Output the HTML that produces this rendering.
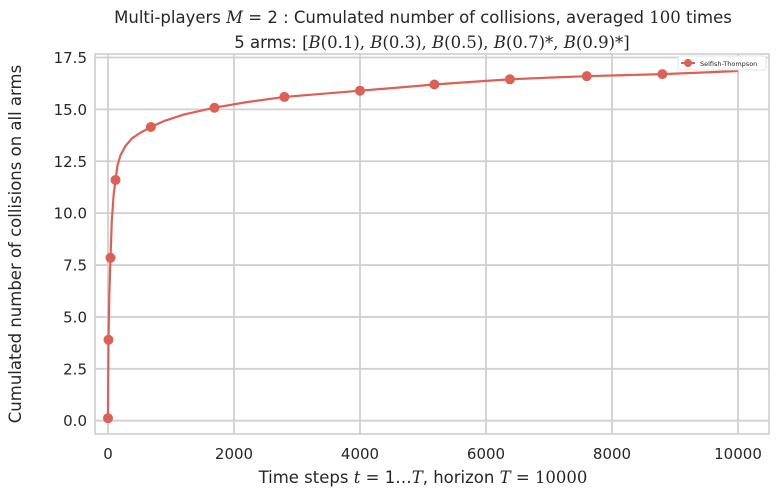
<!DOCTYPE html>
<html><head><meta charset="utf-8"><style>
body{margin:0;background:#fff;}
svg text{font-family:"DejaVu Sans","Liberation Sans",sans-serif;fill:#262626;}
</style></head><body>
<svg id="chart" width="784" height="495" xmlns="http://www.w3.org/2000/svg">
<text x="423" y="23" text-anchor="middle" font-size="16.5">Multi-players <tspan font-family="DejaVu Serif" font-style="italic">M</tspan> = 2 : Cumulated number of collisions, averaged <tspan font-family="DejaVu Serif">100</tspan> times</text>
<text x="432" y="48" text-anchor="middle" font-size="16.5">5 arms: <tspan font-family="DejaVu Serif">[<tspan font-style="italic">B</tspan>(0.1), <tspan font-style="italic">B</tspan>(0.3), <tspan font-style="italic">B</tspan>(0.5), <tspan font-style="italic">B</tspan>(0.7)*, <tspan font-style="italic">B</tspan>(0.9)*]</tspan></text>
<rect x="95" y="54" width="674" height="380" fill="#fff" stroke="#ccc" stroke-width="1.5"/>
<g id="grid"></g><g id="series"></g>
<text x="423" y="483" text-anchor="middle" font-size="16.5">Time steps <tspan font-family="DejaVu Serif" font-style="italic">t</tspan> = 1…<tspan font-family="DejaVu Serif" font-style="italic">T</tspan>, horizon <tspan font-family="DejaVu Serif" font-style="italic">T</tspan> = <tspan font-family="DejaVu Serif">10000</tspan></text>
<text transform="translate(21,244) rotate(-90)" text-anchor="middle" font-size="16.5">Cumulated number of collisions on all arms</text>
<g>
<rect x="678" y="56" width="88" height="14" fill="#fff" stroke="#ddd" stroke-width="0.8" rx="2"/>
<line x1="681" y1="63" x2="695" y2="63" stroke="#dd5f55" stroke-width="2"/>
<circle cx="688" cy="63" r="4" fill="#dd5f55"/>
<text x="700" y="66" font-size="6.5">Selfish-Thompson</text>
</g>
</svg>
<script>
const xTicks=[0,2000,4000,6000,8000,10000];
const yTicks=[0,2.5,5,7.5,10,12.5,15,17.5];
const lineT=[0,8,20,40,60,90,120,150,200,280,380,500,680,900,1200,1690,2200,2800,3400,4000,4600,5180,5800,6380,7000,7600,8200,8800,9400,10000];
const lineV=[0.12,3.9,6.0,7.85,9.6,10.9,11.6,12.3,12.8,13.25,13.6,13.85,14.15,14.45,14.75,15.08,15.35,15.6,15.75,15.9,16.05,16.2,16.33,16.45,16.53,16.6,16.65,16.7,16.77,16.85];
const markT=[0,8,40,120,680,1690,2800,4000,5180,6380,7600,8800];
const markV=[0.12,3.9,7.85,11.6,14.15,15.08,15.6,15.9,16.2,16.45,16.6,16.7];
const X=t=>108+t*0.063, Y=v=>420.7-v*(363.2/17.5);
const NS="http://www.w3.org/2000/svg";
const grid=document.getElementById('grid'), ser=document.getElementById('series');
function mk(tag,attrs,parent){const e=document.createElementNS(NS,tag);for(const k in attrs)e.setAttribute(k,attrs[k]);parent.appendChild(e);return e;}
xTicks.forEach(t=>{
 const l=mk('line',{x1:X(t),x2:X(t),y1:54,y2:434,stroke:'#d0d0d0','stroke-width':1.8},grid);
 
 
 const tx=mk('text',{x:X(t),y:459,'text-anchor':'middle','font-size':15},grid);
 tx.textContent=t;
 
 
});
yTicks.forEach(v=>{
 const l=mk('line',{x1:95,x2:769,y1:Y(v),y2:Y(v),stroke:'#d0d0d0','stroke-width':1.8},grid);
 
 
 const tx=mk('text',{x:87,y:Y(v)+5.5,'text-anchor':'end','font-size':15},grid);
 tx.textContent=v.toFixed(1);
 
 
});
const p=mk('polyline',{points:lineT.map((t,i)=>X(t)+','+Y(lineV[i])).join(' '),fill:'none',stroke:'#dd5f55','stroke-width':2.2},ser);


markT.forEach((t,i)=>{
 const c=mk('circle',{cx:X(t),cy:Y(markV[i]),r:5,fill:'#dd5f55'},ser);
 
 
});
</script>
</body></html>
